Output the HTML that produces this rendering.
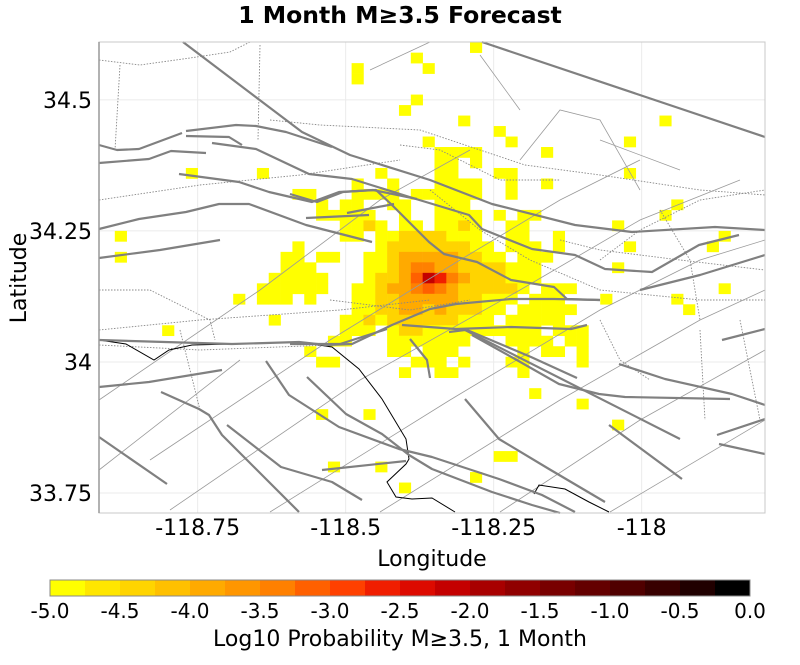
<!DOCTYPE html>
<html><head><meta charset="utf-8"><title>1 Month M≥3.5 Forecast</title>
<style>
html,body{margin:0;padding:0;background:#fff;}
body{width:800px;height:661px;overflow:hidden;font-family:"DejaVu Sans","Liberation Sans",sans-serif;}
svg text{font-family:"DejaVu Sans","Liberation Sans",sans-serif;fill:#000;}
</style></head>
<body>
<svg id="chart" width="800" height="661" viewBox="0 0 800 661" xmlns="http://www.w3.org/2000/svg">
<text x="400" y="23" text-anchor="middle" font-size="23.5" font-weight="bold">1 Month M≥3.5 Forecast</text>
<g id="grid"></g>
<g id="cells"></g>
<g id="basemap" fill="none"></g>
<rect x="99" y="42" width="666" height="471" fill="none" stroke="#c8c8c8" stroke-width="1"/>
<line x1="99" y1="42" x2="99" y2="513" stroke="#999" stroke-width="1.5"/>
<g id="xticks"></g>
<g id="yticks"></g>
<text x="432" y="566" text-anchor="middle" font-size="22">Longitude</text>
<text transform="translate(26,278) rotate(-90)" text-anchor="middle" font-size="22">Latitude</text>
<g id="colorbar"></g>
<text x="400" y="646" text-anchor="middle" font-size="22">Log10 Probability M≥3.5, 1 Month</text>
</svg>
<script>
// ---- data ----
const xTickValues = [-118.75, -118.5, -118.25, -118];
const xTickLabels = ["-118.75", "-118.5", "-118.25", "-118"];
const yTickValues = [34.5, 34.25, 34, 33.75];
const yTickLabels = ["34.5", "34.25", "34", "33.75"];
const cbTickValues = [-5, -4.5, -4, -3.5, -3, -2.5, -2, -1.5, -1, -0.5, 0];
const cbTickLabels = ["-5.0", "-4.5", "-4.0", "-3.5", "-3.0", "-2.5", "-2.0", "-1.5", "-1.0", "-0.5", "0.0"];
const binColors = ["#ffff00","#ffe600","#ffd400","#ffc000","#ffaa00","#ff9600","#ff8000","#ff6000","#ff4000","#f01e00","#dd0a00","#c40000","#a80000","#900000","#780000","#640000","#500000","#380000","#200000","#000000"];
const cellSize = 0.02;
// Y=-4.9 A=-4.4 B=-3.9 C=-3.4 D=-3.1 R=-2.6 E=-2.1 L=-4.7
const classValues = {Y:-4.9, L:-4.7, A:-4.4, B:-3.9, C:-3.4, D:-3.1, R:-2.6, E:-2.1};
const rowLats = [34.60,34.58,34.56,34.54,34.50,34.48,34.46,34.44,34.42,34.40,34.38,34.36,34.34,34.32,34.30,34.28,34.26,34.24,34.22,34.20,34.18,34.16,34.14,34.12,34.10,34.08,34.06,34.04,34.02,34.00,33.98,33.94,33.92,33.90,33.88,33.82,33.80,33.78,33.76];
const rowCells = [
 "-118.28Y",
 "-118.38Y",
 "-118.48Y -118.36Y",
 "-118.48Y",
 "-118.38Y",
 "-118.40Y",
 "-118.30Y -117.96Y",
 "-118.24Y",
 "-118.36Y -118.22Y -118.02Y",
 "-118.34Y -118.32Y -118.30Y -118.28Y -118.16Y",
 "-118.34Y -118.32Y -118.28Y",
 "-118.76Y -118.64Y -118.44Y -118.34Y -118.32Y -118.24Y -118.22Y -118.02Y",
 "-118.48Y -118.42Y -118.34Y -118.32Y -118.30Y -118.28Y -118.22Y -118.16Y",
 "-118.58Y -118.56Y -118.48Y -118.46Y -118.44Y -118.42Y -118.38Y -118.36Y -118.34Y -118.32Y -118.30Y -118.28Y -118.22Y",
 "-118.54Y -118.50Y -118.48Y -118.42Y -118.40Y -118.34Y -118.32Y -118.30Y -117.94Y",
 "-118.54Y -118.52Y -118.50Y -118.48Y -118.46Y -118.40Y -118.34Y -118.32Y -118.30Y -118.28Y -118.24Y -118.20Y -118.18Y -117.96Y",
 "-118.50Y -118.48Y -118.46A -118.44Y -118.40Y -118.38Y -118.34Y -118.32Y -118.30A -118.28Y -118.22Y -118.20Y -118.04Y",
 "-118.88Y -118.50Y -118.48Y -118.44Y -118.42Y -118.40A -118.38A -118.36A -118.34A -118.32Y -118.30Y -118.28Y -118.22Y -118.20Y -118.14Y -117.86Y",
 "-118.58Y -118.44Y -118.42A -118.40A -118.38A -118.36A -118.34A -118.32A -118.30A -118.28Y -118.26Y -118.22Y -118.20Y -118.18Y -118.14Y -118.02Y -117.88Y",
 "-118.88Y -118.60Y -118.58Y -118.54Y -118.52Y -118.46Y -118.44Y -118.42A -118.40B -118.38B -118.36B -118.34B -118.32B -118.30A -118.28A -118.26Y -118.24Y -118.20Y -118.18Y -118.16Y",
 "-118.60Y -118.58Y -118.56Y -118.46Y -118.44Y -118.42A -118.40B -118.38C -118.36C -118.34B -118.32B -118.30A -118.28A -118.26A -118.24A -118.22Y -118.20Y -118.18Y -118.04Y",
 "-118.62Y -118.60Y -118.58Y -118.56Y -118.54Y -118.46Y -118.44A -118.42A -118.40B -118.38D -118.36E -118.34R -118.32C -118.30B -118.28A -118.26A -118.24A -118.22Y -118.20Y -118.18Y",
 "-118.64Y -118.62Y -118.60Y -118.58Y -118.56Y -118.54Y -118.48Y -118.46Y -118.44A -118.42B -118.40B -118.38C -118.36D -118.34C -118.32B -118.30A -118.28A -118.26A -118.24A -118.22A -118.20Y -118.16Y -118.14Y -118.12Y -117.86Y",
 "-118.68Y -118.64Y -118.62Y -118.60Y -118.56Y -118.48Y -118.46Y -118.44A -118.42A -118.40B -118.38B -118.36B -118.34B -118.32B -118.30A -118.28A -118.26Y -118.24Y -118.22Y -118.18Y -118.16Y -118.14Y -118.06Y -117.94Y",
 "-118.48Y -118.46Y -118.44A -118.42A -118.40B -118.38B -118.36A -118.34B -118.32A -118.30A -118.28A -118.26Y -118.24Y -118.20Y -118.18Y -118.16Y -118.14Y -118.12Y -117.92Y",
 "-118.62Y -118.50Y -118.48Y -118.46A -118.44Y -118.42A -118.40A -118.38A -118.36A -118.34A -118.32A -118.30Y -118.28Y -118.26Y -118.22Y -118.20Y -118.18Y -118.16Y -118.14Y",
 "-118.80Y -118.50Y -118.48Y -118.46Y -118.42Y -118.40A -118.38A -118.36Y -118.34Y -118.32Y -118.30Y -118.28Y -118.26Y -118.24Y -118.22Y -118.20Y -118.18Y -118.14Y -118.12Y -118.10Y",
 "-118.52Y -118.50Y -118.42Y -118.40Y -118.38Y -118.36Y -118.34Y -118.32Y -118.30Y -118.22Y -118.20Y -118.18Y -118.16Y -118.12Y -118.10Y",
 "-118.56Y -118.42Y -118.40Y -118.36Y -118.34Y -118.32Y -118.20Y -118.16Y -118.14Y -118.10Y",
 "-118.54Y -118.52Y -118.38Y -118.36Y -118.34Y -118.30Y -118.22Y -118.20Y -118.10Y",
 "-118.40Y -118.34Y -118.32Y -118.20Y",
 "-118.18Y",
 "-118.10Y",
 "-118.54Y -118.46Y",
 "-118.04Y",
 "-118.24Y -118.22Y",
 "-118.52Y -118.44Y",
 "-118.28Y",
 "-118.40Y"
];
// ---- axes ----
const PX0 = 99, PX1 = 765, PY0 = 42, PY1 = 513;
const LON0 = -118.9167, LON1 = -117.7917, LAT0 = 33.7119, LAT1 = 34.6103;
function xScale(lon){ return PX0 + (lon - LON0) / (LON1 - LON0) * (PX1 - PX0); }
function yScale(lat){ return PY1 - (lat - LAT0) / (LAT1 - LAT0) * (PY1 - PY0); }
const CB0 = 50, CB1 = 750;
function cbScale(v){ return CB0 + (v + 5) / 5 * (CB1 - CB0); }
function colorFor(v){ let i = Math.floor((v + 5) / 0.25); if (i < 0) i = 0; if (i > 19) i = 19; return binColors[i]; }
const NS = "http://www.w3.org/2000/svg";
function mk(tag, attrs, parent){ const e = document.createElementNS(NS, tag); for (const k in attrs) e.setAttribute(k, attrs[k]); parent.appendChild(e); return e; }

const grid = document.getElementById("grid");
xTickValues.forEach(function(v){
  const l = mk("line", {x1:xScale(v), x2:xScale(v), y1:PY0, y2:PY1, stroke:"#ebebeb", "stroke-width":1}, grid);
  
  
});
yTickValues.forEach(function(v){
  const l = mk("line", {x1:PX0, x2:PX1, y1:yScale(v), y2:yScale(v), stroke:"#ebebeb", "stroke-width":1}, grid);
  
  
});

const cellsG = document.getElementById("cells");
rowLats.forEach(function(lat, ri){
  rowCells[ri].split(" ").forEach(function(tok){
    const cls = tok.slice(-1);
    const lon = parseFloat(tok.slice(0, -1));
    const v = classValues[cls];
    const x0 = xScale(lon - cellSize/2), x1 = xScale(lon + cellSize/2);
    const y0 = yScale(lat + cellSize/2), y1 = yScale(lat - cellSize/2);
    const r = mk("rect", {x:x0, y:y0, width:x1-x0+0.3, height:y1-y0+0.3, fill:colorFor(v)}, cellsG);
    
    
  });
});

const thick = [
 "183,42 302,132 350,155 430,180 492,204 575,225 632,232 715,227 765,230",
 "482,42 765,137",
 "99,145 117,150 139,149 182,133",
 "186,131 236,125 256,126 286,132 332,147",
 "99,163 149,159 171,151 206,153",
 "186,136 229,137 242,145",
 "212,143 256,149 309,174 352,179 416,199 469,215 482,229 532,249 575,255 605,269 652,272 699,245 739,235",
 "179,174 239,182 269,192 312,202 339,192 376,190 392,205 429,242 444,254 477,262 511,280 554,287 567,299 600,300",
 "99,229 139,219 186,212 219,204 249,204 306,225 372,242",
 "306,218 369,215",
 "347,213 394,204",
 "290,194 317,202 343,192 373,190 417,199",
 "99,340 232,344 299,342 326,345 352,344 392,325 430,309 456,304 511,299 554,299 600,300",
 "99,387 149,382 222,370",
 "161,392 199,409 209,415 222,435 299,512",
 "99,437 167,484",
 "227,425 281,467 332,482 362,500",
 "266,361 289,395 339,427 399,449 432,457 499,479 542,495 575,512",
 "307,377 346,414 382,434 409,455 432,469 492,492 532,505 560,513",
 "322,470 406,461",
 "465,399 499,439 549,469 605,502",
 "472,335 515,359 559,384 599,394 625,397 730,399",
 "449,332 465,330 680,439",
 "619,364 665,379 732,394 765,405",
 "609,425 682,479",
 "717,435 765,419",
 "719,444 765,454",
 "722,340 765,329",
 "402,325 456,329 511,327 571,329 587,325",
 "290,344 340,344 387,329",
 "410,339 427,360 430,378",
 "467,330 531,357 577,378",
 "99,258 160,250 220,240",
 "640,290 700,275 765,255"
];
const thin = [
 "99,400 260,290 380,200 470,150",
 "150,460 330,340 460,260 560,200 640,160",
 "170,510 360,380 520,290 640,220 740,180",
 "270,512 450,400 600,310 700,260 765,240",
 "380,512 560,400 700,320 765,290",
 "500,512 640,420 765,350",
 "610,512 765,420",
 "99,470 240,360",
 "370,70 430,42",
 "480,55 520,110",
 "600,140 680,170",
 "520,160 560,110 600,120 640,190"
];
const dotted = [
 "99,60 140,65 190,58 230,52 250,42",
 "120,65 115,150",
 "260,45 258,140",
 "270,120 320,125 420,130 480,150 525,165 600,175 700,190 765,195",
 "400,145 440,150 500,180 560,180",
 "99,200 200,185 300,175 400,160",
 "99,330 200,320 340,310 430,300",
 "99,290 150,290 210,320 215,340",
 "330,300 410,310 470,300",
 "430,190 480,230 530,260 600,290 700,300 765,300",
 "560,240 600,250 680,260 765,270",
 "600,260 640,230 700,200 765,190",
 "700,330 705,420",
 "740,320 760,420",
 "660,210 690,260 700,320",
 "600,320 620,360 650,380",
 "180,330 200,410",
 "99,345 200,350 330,345"
];
const coast = [
 "99,340 126,344 154,360 169,350 192,345 232,344 299,342 312,344 332,347 359,369 382,399 406,439 409,459 406,464 387,482 396,497 412,499 432,498 455,512",
 "534,494 539,485 565,489 589,502 609,512"
];
const bm = document.getElementById("basemap");
thin.forEach(function(p){ const e = mk("polyline", {points:p, stroke:"#9a9a9a", "stroke-width":0.8}, bm);   });
dotted.forEach(function(p){ const e = mk("polyline", {points:p, stroke:"#888", "stroke-width":0.9, "stroke-dasharray":"1.5,1.5"}, bm);   });
coast.forEach(function(p){ const e = mk("polyline", {points:p, stroke:"#000", "stroke-width":1}, bm);   });
thick.forEach(function(p){ const e = mk("polyline", {points:p, stroke:"#808080", "stroke-width":2.2, "stroke-linejoin":"round"}, bm);   });

const xt = document.getElementById("xticks");
xTickValues.forEach(function(v, i){
  const t = mk("text", {x:xScale(v), y:535, "text-anchor":"middle", "font-size":22}, xt);
  t.textContent = xTickLabels[i];
  
  
});
const yt = document.getElementById("yticks");
yTickValues.forEach(function(v, i){
  const t = mk("text", {x:92, y:yScale(v)+8, "text-anchor":"end", "font-size":22}, yt);
  t.textContent = yTickLabels[i];
  
  
});

const cb = document.getElementById("colorbar");
binColors.forEach(function(c, i){
  const v0 = -5 + i*0.25;
  const r = mk("rect", {x:cbScale(v0), y:580, width:cbScale(v0+0.25)-cbScale(v0)+0.3, height:16, fill:c}, cb);
  
  
});
const cbf = mk("rect", {x:CB0, y:580, width:CB1-CB0, height:16, fill:"none", stroke:"#888", "stroke-width":1}, cb);


cbTickValues.forEach(function(v, i){
  const t = mk("text", {x:cbScale(v), y:618, "text-anchor":"middle", "font-size":20}, cb);
  t.textContent = cbTickLabels[i];
  
  
});
</script>
</body></html>
